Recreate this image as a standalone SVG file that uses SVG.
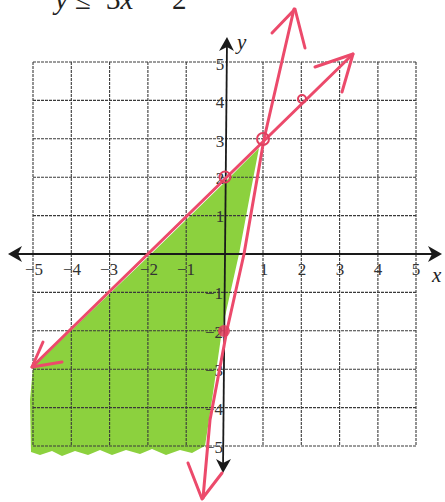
<svg xmlns="http://www.w3.org/2000/svg" width="445" height="502" viewBox="0 0 445 502">
<defs>
<style>
.grid{stroke:#3a3a3a;stroke-width:1.1;stroke-dasharray:3 1;fill:none}
.axis{stroke:#1a1a1a;stroke-width:1.8;fill:none}
.ahead{fill:#1a1a1a}
.lbl{font-family:"Liberation Serif","DejaVu Serif",serif;font-size:17px;fill:#333;text-anchor:middle}
.var{font-family:"Liberation Serif","DejaVu Serif",serif;font-style:italic;font-size:21px;fill:#222}
.red{stroke:#ec4a6b;stroke-width:3;fill:none;stroke-linecap:round;stroke-linejoin:round}
.pt{stroke:#e0405f;stroke-width:2;fill:none}
</style>
</defs>
<rect width="445" height="502" fill="#ffffff"/>
<text x="55" y="9" font-family="Liberation Serif,DejaVu Serif,serif" font-size="29" fill="#222"><tspan font-style="italic">y</tspan><tspan x="75">≤</tspan><tspan x="106">3</tspan><tspan font-style="italic">x</tspan><tspan x="143">−</tspan><tspan x="172">2</tspan></text>
<g id="shading">
<path d="M259,148 L226,181 L150,255 L33,367 L30,400 L31,452 L40,455 L52,451 L62,456 L75,451 L88,455 L100,450 L112,455 L126,450 L140,454 L152,449 L166,455 L180,450 L192,453 L201,448 L205,446 L212,400 L222,330 L239,254 L250,195 Z" fill="#8cd13e"/>
</g>
<g id="grid">
<path class="grid" d="M33,62V446M71.3,62V446M109.6,62V446M147.9,62V446M186.2,62V446M263,62V446M301.3,62V446M339.6,62V446M377.9,62V446M416,62V446"/>
<path class="grid" d="M33,62H416M33,100.4H416M33,138.8H416M33,177.2H416M33,215.6H416M33,292.4H416M33,330.8H416M33,369.2H416M33,407.6H416M33,446H416"/>
</g>
<g id="axes">
<path class="axis" d="M12,254H438"/>
<path class="ahead" d="M8,254 L22,246 L18,254 L22,262 Z"/>
<path class="ahead" d="M442,254 L428,246 L432,254 L428,262 Z"/>
<path class="axis" d="M227,41 L223,469"/>
<path class="ahead" d="M227,37 L219,51 L227,47 L234,51 Z"/>
<path class="ahead" d="M223,473 L216,459 L223,463 L231,459 Z"/>
<text class="var" x="237" y="49">y</text>
<text class="var" x="432" y="282">x</text>
</g>
<g id="labels">
<text class="lbl" x="34" y="275">−5</text>
<text class="lbl" x="72" y="275">−4</text>
<text class="lbl" x="109" y="275">−3</text>
<text class="lbl" x="149" y="275">−2</text>
<text class="lbl" x="186" y="275">−1</text>
<text class="lbl" x="264" y="275">1</text>
<text class="lbl" x="302" y="275">2</text>
<text class="lbl" x="340" y="275">3</text>
<text class="lbl" x="378" y="275">4</text>
<text class="lbl" x="416" y="275">5</text>
<text class="lbl" x="220" y="70">5</text>
<text class="lbl" x="220" y="108">4</text>
<text class="lbl" x="220" y="147">3</text>
<text class="lbl" x="220" y="184">2</text>
<text class="lbl" x="220" y="222">1</text>
<text class="lbl" x="214" y="299">−1</text>
<text class="lbl" x="214" y="338">−2</text>
<text class="lbl" x="214" y="376">−3</text>
<text class="lbl" x="214" y="415">−4</text>
<text class="lbl" x="214" y="453">−5</text>
</g>
<g id="connectors">
<path id="line-y-x-2" class="red" d="M32,367 L353,54"/>
<path class="red" d="M315,67 L353,54 L342,92"/>
<path class="red" d="M43,342 L32,367 L62,362"/>
<path id="line-y-3x-2" class="red" d="M294,9 L264,139 L244,254 L227,330 L210,420 L203,498"/>
<path class="red" d="M272,33 L295,9 L305,48"/>
<path class="red" d="M188,463 L202,499 L222,473"/>
</g>
<g id="point-0-2"><circle class="pt" cx="225" cy="177" r="5.5"/></g>
<g id="point-1-3"><circle class="pt" cx="263" cy="139" r="6"/></g>
<g id="point-2-4"><circle class="pt" cx="302" cy="99" r="4" stroke-width="1.2"/></g>
<g id="point-0-m2"><circle cx="224" cy="331" r="6" fill="#e0405f" opacity="0.85"/></g>
</svg>
